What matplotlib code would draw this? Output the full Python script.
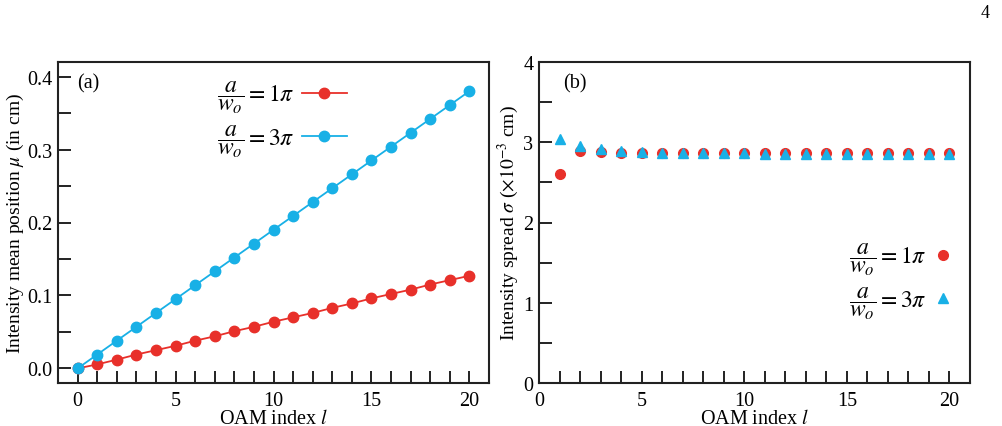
import numpy as np
import matplotlib
matplotlib.use('Agg')
import matplotlib.pyplot as plt
from matplotlib.ticker import MultipleLocator

plt.rcParams['font.family'] = ['Liberation Serif', 'DejaVu Serif']
plt.rcParams['mathtext.fontset'] = 'stix'
plt.rcParams['font.size'] = 14

# panel (a): mean position vs OAM index
l_a = [0, 1, 2, 3, 4, 5, 6, 7, 8, 9, 10, 11, 12, 13, 14, 15, 16, 17, 18, 19, 20]
mu_1pi = [0.0, 0.0055, 0.012, 0.019, 0.025, 0.031, 0.038, 0.044, 0.051, 0.057, 0.064,
          0.070, 0.076, 0.083, 0.089, 0.096, 0.102, 0.108, 0.115, 0.121, 0.127]
mu_3pi = [0.0, 0.019, 0.038, 0.057, 0.076, 0.095, 0.114, 0.133, 0.152, 0.171, 0.190,
          0.209, 0.228, 0.247, 0.266, 0.285, 0.304, 0.323, 0.342, 0.361, 0.380]

# panel (b): spread vs OAM index
l_b = [1, 2, 3, 4, 5, 6, 7, 8, 9, 10, 11, 12, 13, 14, 15, 16, 17, 18, 19, 20]
sig_1pi = [2.61, 2.89, 2.88, 2.87, 2.87, 2.86, 2.86, 2.86, 2.86, 2.86,
           2.86, 2.86, 2.86, 2.86, 2.86, 2.86, 2.86, 2.86, 2.86, 2.86]
sig_3pi = [3.04, 2.95, 2.91, 2.89, 2.88, 2.87, 2.87, 2.86, 2.86, 2.86,
           2.85, 2.85, 2.85, 2.85, 2.85, 2.85, 2.85, 2.85, 2.85, 2.85]

lab1 = r'$\dfrac{a}{w_o} = 1\pi$'
lab3 = r'$\dfrac{a}{w_o} = 3\pi$'

red = '#e8302a'
blue = '#18b0e6'

fig = plt.figure(figsize=(10.02, 4.27), dpi=100)
ax1 = fig.add_axes([58/1002, 1-384/427, 431/1002, 321/427])
ax2 = fig.add_axes([539/1002, 1-384/427, 431/1002, 321/427])

def style(ax):
    for s in ax.spines.values():
        s.set_linewidth(1.5)
        s.set_color('#222222')
    ax.tick_params(which='both', direction='in', top=False, right=False,
                   width=1.4, color='#222222', labelsize=14.5, pad=6)
    ax.tick_params(axis='y', pad=4)
    ax.tick_params(which='major', length=9)
    ax.tick_params(which='minor', length=9)
    ax.xaxis.set_major_locator(MultipleLocator(5))
    ax.xaxis.set_minor_locator(MultipleLocator(1))
    ax.set_xlabel(r'OAM index $l$', fontsize=14.5, labelpad=-1)

style(ax1)
ax1.plot(l_a, mu_1pi, '-o', color=red, lw=1.3, ms=7.5, label=lab1, zorder=3)
ax1.plot(l_a, mu_3pi, '-o', color=blue, lw=1.3, ms=7.5, label=lab3, zorder=4)
ax1.set_xlim(-1, 21)
ax1.set_ylim(-0.02, 0.42)
ax1.yaxis.set_major_locator(MultipleLocator(0.1))
ax1.yaxis.set_minor_locator(MultipleLocator(0.05))
ax1.yaxis.set_major_formatter(matplotlib.ticker.FormatStrFormatter('%.1f'))
ax1.set_ylabel(r'Intensity mean position $\mu$ (in cm)', fontsize=14, labelpad=1)
ax1.text(0.045, 0.935, '(a)', transform=ax1.transAxes, fontsize=14.5, va='center')
ax1.legend(loc='upper left', bbox_to_anchor=(0.32, 1.015), frameon=False,
           markerfirst=False, handlelength=1.9, labelspacing=0.3, fontsize=17,
           handletextpad=0.3)

style(ax2)
ax2.plot(l_b, sig_1pi, 'o', color=red, ms=7, label=lab1, zorder=3)
ax2.plot(l_b, sig_3pi, '^', color=blue, ms=7, label=lab3, zorder=4)
ax2.set_xlim(0, 21)
ax2.set_ylim(0, 4)
ax2.yaxis.set_major_locator(MultipleLocator(1))
ax2.yaxis.set_minor_locator(MultipleLocator(0.5))
ax2.set_ylabel(r'Intensity spread $\sigma$ ($\times10^{-3}$ cm)', fontsize=14, labelpad=2)
ax2.text(0.055, 0.935, '(b)', transform=ax2.transAxes, fontsize=14.5, va='center')
ax2.legend(loc='upper left', bbox_to_anchor=(0.67, 0.51), frameon=False,
           markerfirst=False, handlelength=0.8, labelspacing=0.3, fontsize=17,
           handletextpad=0.3)

fig.text(985/1002, 1-14/427, '4', fontsize=13, ha='center', va='center')

fig.savefig('out.png', dpi=100)
